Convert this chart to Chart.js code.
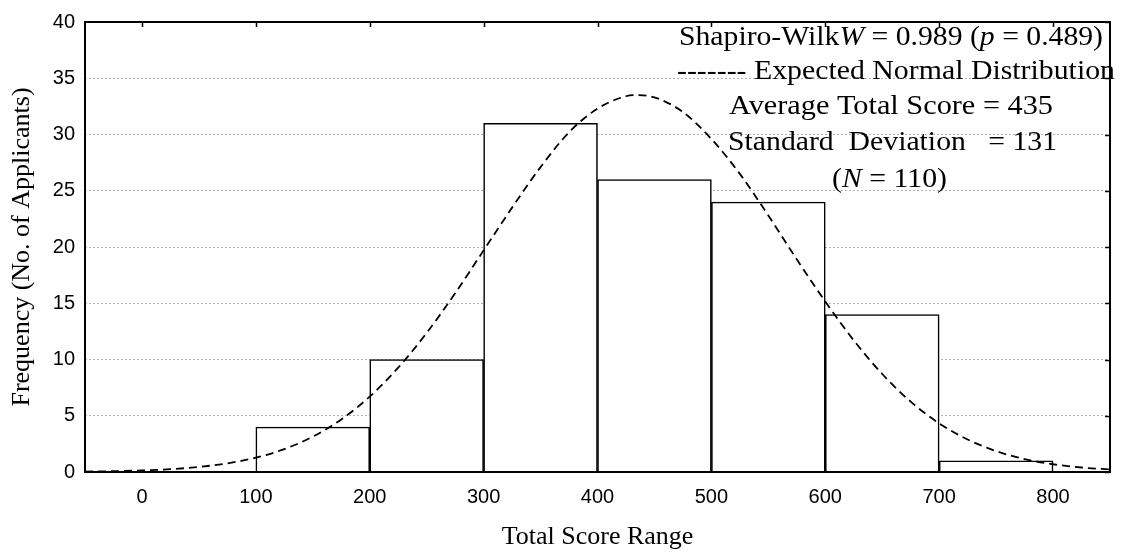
<!DOCTYPE html>
<html><head><meta charset="utf-8">
<script src="https://cdn.jsdelivr.net/npm/chart.js@4/dist/chart.umd.min.js"></script>
<style>html,body{margin:0;padding:0;background:#fff;}#wrap{width:1127px;height:553px;}</style>
</head><body><div id="wrap"><canvas id="c" width="1127" height="553"></canvas></div>
<script>
// ---- data ----
const binCenters = [150, 250, 350, 450, 550, 650, 750];
const frequencies = [4, 10, 31, 26, 24, 14, 1];
const curveX = [-50,-25,0,25,50,75,100,125,150,175,200,225,250,275,300,325,350,375,400,425,435,450,475,500,525,550,575,600,625,650,675,700,725,750,775,800,825,850];
const curveY = [0.04,0.07,0.14,0.25,0.45,0.77,1.27,2.04,3.14,4.67,6.70,9.27,12.36,15.89,19.7,23.5,27.1,30.2,32.3,33.4,33.5,33.3,32.0,29.6,26.5,22.8,18.9,15.15,11.7,8.71,6.25,4.33,2.89,1.86,1.15,0.69,0.40,0.22];
const xTickValues = [0, 100, 200, 300, 400, 500, 600, 700, 800];
const yTickStep = 5;
const xTitle = 'Total Score Range';
const yTitle = 'Frequency (No. of Applicants)';
const noteLines = [
  [['Shapiro-Wilk',0],['W',1],[' = 0.989 (',0],['p',1],[' = 0.489)',0]],
  [['------- Expected Normal Distribution',0]],
  [['Average Total Score = 435',0]],
  [['Standard  Deviation   = 131',0]],
  [['(',0],['N',1],[' = 110)',0]]
];
// layout of the note block (left, right, baseline)
const noteBoxes = [[679,1103,45],[677,1115,79],[729,1053,114],[728,1057,150],[832,947,187]];

const serif = '"Liberation Serif", "Times New Roman", serif';
const sans = '"Liberation Sans", Arial, sans-serif';

const framePlugin = {
  id: 'frame',
  afterDatasetsDraw(chart) {
    const {ctx, chartArea: a, scales} = chart;
    ctx.save();
    ctx.strokeStyle = '#000';
    ctx.lineWidth = 1.5;
    ctx.beginPath();
    xTickValues.forEach(v => {
      const px = Math.round(scales.x.getPixelForValue(v)) + 0.5;
      ctx.moveTo(px, a.top); ctx.lineTo(px, a.top + 5);
    });
    scales.y.ticks.forEach(t => {
      const py = Math.round(scales.y.getPixelForValue(t.value)) + 0.5;
      ctx.moveTo(a.right, py); ctx.lineTo(a.right - 5, py);
    });
    ctx.stroke();
    ctx.lineWidth = 2;
    ctx.strokeRect(a.left, a.top, a.right - a.left, a.bottom - a.top);
    ctx.restore();
  }
};

const notePlugin = {
  id: 'note',
  afterDraw(chart) {
    const ctx = chart.ctx;
    ctx.save();
    ctx.fillStyle = '#000';
    ctx.textBaseline = 'alphabetic';
    ctx.textAlign = 'left';
    noteLines.forEach((runs, i) => {
      const [l, r, base] = noteBoxes[i];
      let w = 0;
      runs.forEach(([t, it]) => { ctx.font = (it ? 'italic ' : '') + '28px ' + serif; w += ctx.measureText(t).width; });
      const sx = (r - l) / w;
      ctx.save();
      ctx.translate(l, base);
      ctx.scale(sx, 1);
      let x = 0;
      runs.forEach(([t, it]) => {
        ctx.font = (it ? 'italic ' : '') + '28px ' + serif;
        ctx.fillText(t, x, 0);
        x += ctx.measureText(t).width;
      });
      ctx.restore();
    });
    ctx.restore();
  }
};

new Chart(document.getElementById('c').getContext('2d'), {
  type: 'bar',
  data: {
    datasets: [
      {
        type: 'line',
        data: curveX.map((x, i) => ({x: x, y: curveY[i]})),
        borderColor: '#000', borderWidth: 1.8, borderDash: [8, 5],
        pointRadius: 0, fill: false, cubicInterpolationMode: 'monotone', order: 0
      },
      {
        type: 'bar',
        data: binCenters.map((x, i) => ({x: x, y: frequencies[i]})),
        backgroundColor: '#fff', borderColor: '#000', borderWidth: 1.6,
        barPercentage: 1, categoryPercentage: 1, order: 1
      }
    ]
  },
  options: {
    responsive: false, animation: false,
    plugins: {legend: {display: false}, tooltip: {enabled: false}},
    layout: {padding: {top: 16, right: 17, bottom: 0, left: 0}},
    scales: {
      x: {
        type: 'linear', min: -50, max: 850, offset: false,
        afterBuildTicks: s => { s.ticks = xTickValues.map(v => ({value: v})); },
        afterFit: s => { s.height = 81; },
        grid: {display: false, drawTicks: false, offset: false},
        border: {display: false},
        ticks: {padding: 13, color: '#000', font: {family: sans, size: 20}, maxRotation: 0, autoSkip: false},
        title: {display: true, text: xTitle, color: '#000', font: {family: serif, size: 26}, padding: {top: 0, bottom: 0}}
      },
      y: {
        min: 0, max: 40,
        afterFit: s => { s.width = 85; },
        ticks: {stepSize: yTickStep, padding: 10, color: '#000', font: {family: sans, size: 20}},
        grid: {color: '#b4b4b4', lineWidth: 1, drawTicks: false},
        border: {display: false, dash: [2, 2]},
        title: {display: true, text: yTitle, color: '#000', font: {family: serif, size: 26}, padding: {top: 7, bottom: 0}}
      }
    }
  },
  plugins: [framePlugin, notePlugin]
});
</script>
</body></html>
